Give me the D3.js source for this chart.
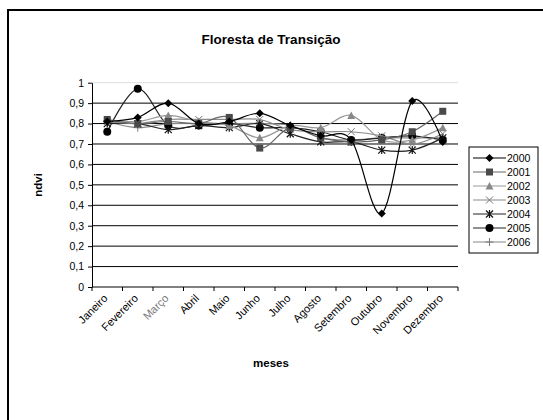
<!DOCTYPE html>
<html><head><meta charset="utf-8">
<script src="https://cdn.jsdelivr.net/npm/d3@7"></script>
<style>body{margin:0;background:#fff}svg{display:block;font-family:"Liberation Sans",Arial,sans-serif}</style>
</head><body><svg id="c" width="543" height="420"></svg>
<script>
const months = ["Janeiro","Fevereiro","Março","Abril","Maio","Junho","Julho","Agosto","Setembro","Outubro","Novembro","Dezembro"];
const years = ["2000","2001","2002","2003","2004","2005","2006"];
const v2000 = [0.81,0.83,0.90,0.80,0.81,0.85,0.79,0.74,0.72,0.36,0.91,0.71];
const v2001 = [0.82,0.80,0.81,0.80,0.83,0.68,0.78,0.73,0.71,0.72,0.76,0.86];
const v2002 = [0.82,0.81,0.84,0.81,0.79,0.73,0.79,0.78,0.84,0.72,0.72,0.78];
const v2003 = [0.81,0.80,0.82,0.82,0.82,0.82,0.77,0.76,0.76,0.74,0.70,0.75];
const v2004 = [0.80,0.80,0.77,0.79,0.78,0.80,0.75,0.71,0.71,0.67,0.67,0.73];
const v2005 = [0.76,0.97,0.79,0.79,0.80,0.78,0.78,0.76,0.72,0.73,0.74,0.72];
const v2006 = [0.81,0.78,0.80,0.80,0.80,0.80,0.79,0.73,0.72,0.73,0.73,0.73];
const yTicks = [0,0.1,0.2,0.3,0.4,0.5,0.6,0.7,0.8,0.9,1];

const seriesValues = [v2000,v2001,v2002,v2003,v2004,v2005,v2006];
const styles = [
  {marker:"diamond", line:"#000", fill:"#000"},
  {marker:"square", line:"#666", fill:"#4a4a4a"},
  {marker:"triangle", line:"#999", fill:"#888"},
  {marker:"x", line:"#8a8a8a", fill:"#777"},
  {marker:"asterisk", line:"#222", fill:"#111"},
  {marker:"circle", line:"#222", fill:"#000"},
  {marker:"plus", line:"#888", fill:"#777"}
];

const svg = d3.select("#c");
svg.append("rect").attr("x",8).attr("y",10).attr("width",560).attr("height",440)
  .attr("fill","#fff").attr("stroke","#000").attr("stroke-width",2);

const L=92, R=458, T=82.7, B=287;
const x = d3.scaleBand().domain(months).range([L,R]);
const y = d3.scaleLinear().domain([0,1]).range([B,T]);

svg.append("g").selectAll("line").data(yTicks.filter(d=>d>0)).join("line")
  .attr("x1",L).attr("x2",R).attr("y1",d=>y(d)).attr("y2",d=>y(d))
  .attr("stroke",d=>d===1?"#ddd":"#000").attr("stroke-width",1);

const ya = svg.append("g").attr("transform",`translate(${L},0)`)
  .call(d3.axisLeft(y).tickValues(yTicks).tickSize(4).tickSizeOuter(0)
    .tickFormat(d=>d3.format(".1~f")(d).replace(".",",")));
ya.select(".domain").attr("stroke","#000");
ya.selectAll("text").attr("font-size",10.5).attr("fill","#000").attr("dx",-1);

const xa = svg.append("g").attr("transform",`translate(0,${B})`);
xa.append("line").attr("x1",L).attr("x2",R).attr("stroke","#000");
const bounds = months.map(m=>x(m)).concat([R]);
xa.selectAll("line.tk").data(bounds).join("line").attr("class","tk")
  .attr("x1",d=>d).attr("x2",d=>d).attr("y1",0).attr("y2",4).attr("stroke","#000");
xa.selectAll("text").data(months).join("text")
  .attr("transform",d=>`translate(${x(d)+x.bandwidth()/2+1},${12}) rotate(-45)`)
  .attr("text-anchor","end").attr("font-size",11).attr("fill",d=>d==="Março"?"#777":"#000")
  .text(d=>d);

const line = d3.line().x((d,i)=>x(months[i])+x.bandwidth()/2).y(d=>y(d))
  .curve(d3.curveCardinal.tension(0));

function marker(g, type, s){
  const sz=3.5;
  if(type==="diamond") g.append("path").attr("d",`M0,${-sz-0.5}L${sz+0.5},0L0,${sz+0.5}L${-sz-0.5},0Z`).attr("fill",s.fill);
  else if(type==="square") g.append("rect").attr("x",-sz).attr("y",-sz).attr("width",2*sz).attr("height",2*sz).attr("fill",s.fill);
  else if(type==="triangle") g.append("path").attr("d",`M0,${-sz-0.5}L${sz+0.5},${sz}L${-sz-0.5},${sz}Z`).attr("fill",s.fill);
  else if(type==="circle") g.append("circle").attr("r",sz+0.5).attr("fill",s.fill);
  else if(type==="x") g.append("path").attr("d",`M${-sz},${-sz}L${sz},${sz}M${-sz},${sz}L${sz},${-sz}`).attr("stroke",s.fill).attr("stroke-width",1);
  else if(type==="asterisk") g.append("path").attr("d",`M${-sz},${-sz}L${sz},${sz}M${-sz},${sz}L${sz},${-sz}M0,${-sz-0.5}L0,${sz+0.5}`).attr("stroke",s.fill).attr("stroke-width",1.2);
  else if(type==="plus") g.append("path").attr("d",`M${-sz-0.5},0L${sz+0.5},0M0,${-sz-0.5}L0,${sz+0.5}`).attr("stroke",s.fill).attr("stroke-width",1);
}

const order=[6,5,4,3,2,1,0];
order.forEach(k=>{
  const s=styles[k], vals=seriesValues[k];
  svg.append("path").attr("d",line(vals)).attr("fill","none").attr("stroke",s.line).attr("stroke-width",1.2);
  vals.forEach((v,i)=>{
    const g=svg.append("g").attr("transform",`translate(${x(months[i])+x.bandwidth()/2},${y(v)})`);
    marker(g,s.marker,s);
  });
});

const lx=469, ly=147, lw=69, lh=106;
svg.append("rect").attr("x",lx).attr("y",ly).attr("width",lw).attr("height",lh)
  .attr("fill","#fff").attr("stroke","#000").attr("stroke-width",1);
years.forEach((yr,k)=>{
  const cy=ly+11+k*14, s=styles[k];
  svg.append("line").attr("x1",lx+4).attr("x2",lx+37).attr("y1",cy).attr("y2",cy).attr("stroke",s.line).attr("stroke-width",1.2);
  marker(svg.append("g").attr("transform",`translate(${lx+20.5},${cy})`),s.marker,s);
  svg.append("text").attr("x",lx+38).attr("y",cy+3.6).attr("font-size",10.5).attr("fill","#000").text(yr);
});

svg.append("text").attr("x",271).attr("y",44).attr("text-anchor","middle").attr("font-size",13.5).attr("font-weight","bold").text("Floresta de Transição");
svg.append("text").attr("x",271).attr("y",367).attr("text-anchor","middle").attr("font-size",11.5).attr("font-weight","bold").text("meses");
svg.append("text").attr("transform","translate(42,185) rotate(-90)").attr("text-anchor","middle").attr("font-size",11.5).attr("font-weight","bold").text("ndvi");
</script></body></html>
